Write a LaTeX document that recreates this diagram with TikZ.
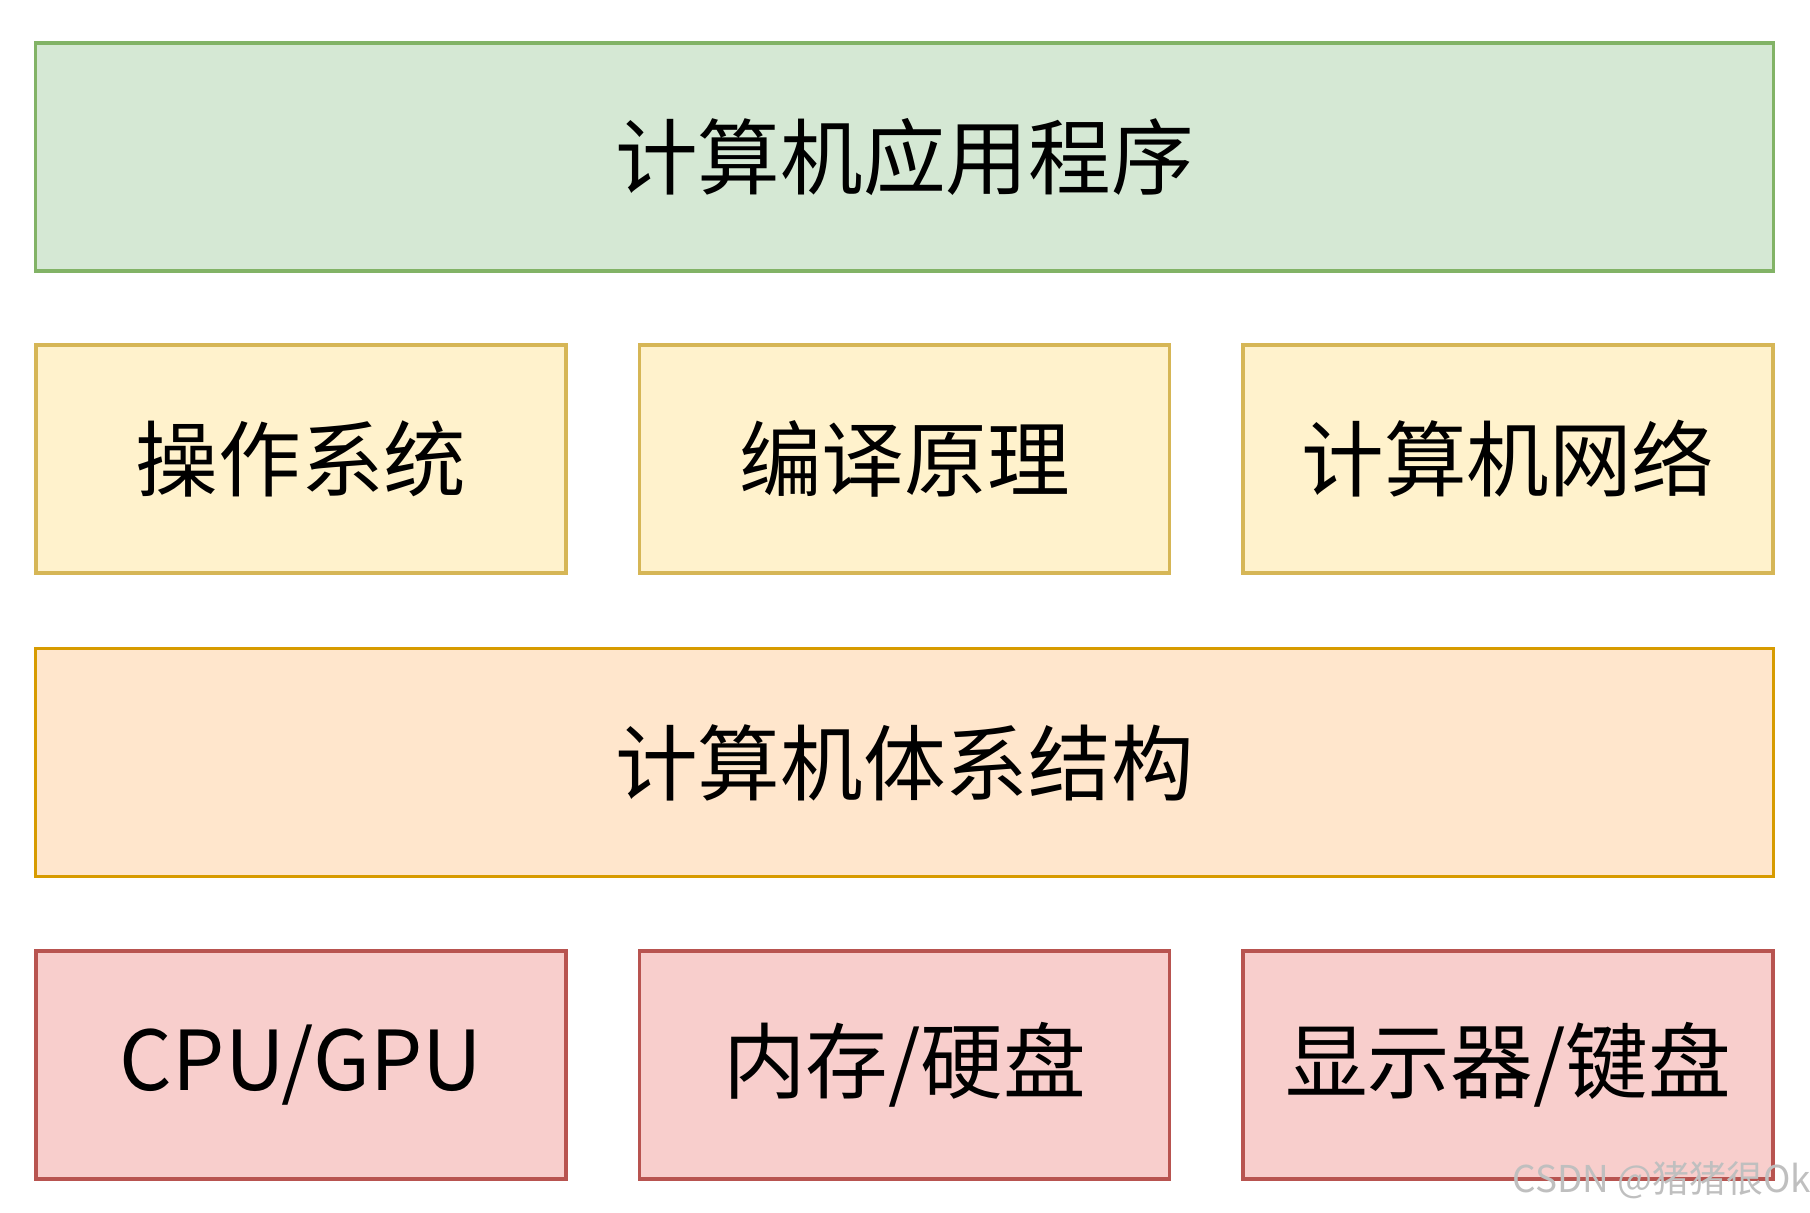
\documentclass[tikz,border=0pt]{standalone}
\usepackage{fontspec}
\setmainfont{Noto Sans CJK SC}
\usepackage{tikz}
\definecolor{greenfill}{HTML}{D5E8D4}\definecolor{greenline}{HTML}{82B366}
\definecolor{yellowfill}{HTML}{FFF2CC}\definecolor{yellowline}{HTML}{D6B656}
\definecolor{orangefill}{HTML}{FFE6CC}\definecolor{orangeline}{HTML}{D79B00}
\definecolor{redfill}{HTML}{F8CECC}\definecolor{redline}{HTML}{B85450}
\tikzstyle{layer}=[rectangle, draw, line width=1pt, inner sep=0pt, minimum height=2.28cm, font=\fontsize{23.5}{28}\selectfont]
\tikzstyle{wide}=[layer, minimum width=17.37cm]
\tikzstyle{piece}=[layer, minimum width=5.3cm]
\newcommand{\layerbox}{\node[wide]}
\newcommand{\piecebox}{\node[piece]}

\begin{document}
\begin{tikzpicture}[x=0.01cm,y=-0.01cm]
	\useasboundingbox (0,0) rectangle (1810,1212);
	\layerbox[fill=greenfill, draw=greenline] (app) at (904.5,157) {计算机应用程序};
	\piecebox[fill=yellowfill, draw=yellowline] (os) at (301,459) {操作系统};
	\piecebox[fill=yellowfill, draw=yellowline] (compile) at (904.5,459) {编译原理};
	\piecebox[fill=yellowfill, draw=yellowline] (net) at (1508,459) {计算机网络};
	\layerbox[fill=orangefill, draw=orangeline] (arch) at (904.5,762.5) {计算机体系结构};
	\piecebox[fill=redfill, draw=redline] (cpu) at (301,1065) {CPU/GPU};
	\piecebox[fill=redfill, draw=redline] (mem) at (904.5,1065) {内存/硬盘};
	\piecebox[fill=redfill, draw=redline] (io) at (1508,1065) {显示器/键盘};
	\node[anchor=south east, inner sep=0pt, text=black!25, font=\fontsize{10.5}{12}\selectfont] (mark) at (1812,1200) {CSDN @猪猪很Ok};
\end{tikzpicture}
\end{document}
